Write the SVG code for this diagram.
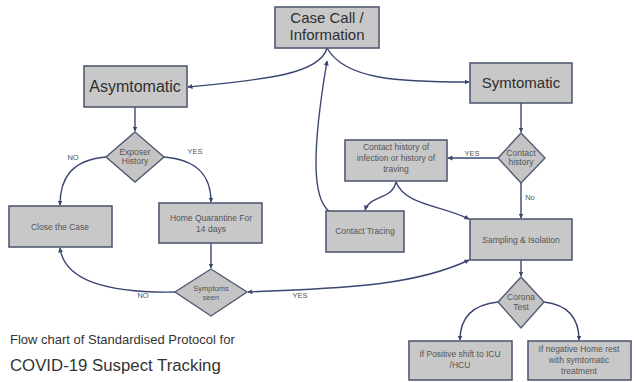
<svg xmlns="http://www.w3.org/2000/svg" width="636" height="382" viewBox="0 0 636 382">
<style>
.box{fill:#c8c8c8;stroke:#525a74;stroke-width:1.6}
.dia{fill:#c4c4c4;stroke:#525a74;stroke-width:1.4}
.c{fill:none;stroke:#3b4773;stroke-width:1.4}
text{font-family:"Liberation Sans",Arial,sans-serif;fill:#3a3a3a;text-anchor:middle}
.big{font-size:15px;fill:#2e2e2e}
.sm{font-size:8.5px;fill:#555}
.lb{font-size:7.5px;fill:#555}
.title{text-anchor:start;fill:#333}
</style>
<defs>
<marker id="ah" viewBox="0 0 10 10" refX="9" refY="5" markerWidth="5" markerHeight="5" orient="auto-start-reverse" markerUnits="userSpaceOnUse">
<path d="M0,0 L10,5 L0,10 z" fill="#3b4773"/>
</marker>
</defs>
<rect width="636" height="382" fill="#fff"/>
<g id="connectors">
<path class="c" d="M327,48 C320,75 260,80 188,87" marker-end="url(#ah)"/>
<path class="c" d="M327,48 C345,80 400,82 469,82" marker-end="url(#ah)"/>
<path class="c" d="M329,211 C312,198 312,150 327,61" marker-end="url(#ah)"/>
<path class="c" d="M135,107 L135,131" marker-end="url(#ah)"/>
<path class="c" d="M106,157 C70,160 60,180 60,205" marker-end="url(#ah)"/>
<path class="c" d="M164,157 C200,160 211,178 211,202" marker-end="url(#ah)"/>
<path class="c" d="M211,243 L211,268" marker-end="url(#ah)"/>
<path class="c" d="M175,292 C120,293 65,285 60,248" marker-end="url(#ah)"/>
<path class="c" d="M248,292 C330,288 410,288 469,260" marker-start="url(#ah)" marker-end="url(#ah)"/>
<path class="c" d="M521,103 L521,132" marker-end="url(#ah)"/>
<path class="c" d="M498,158 L448,158" marker-end="url(#ah)"/>
<path class="c" d="M521,183 L521,218" marker-end="url(#ah)"/>
<path class="c" d="M396,182 C392,200 370,195 365,210" marker-end="url(#ah)"/>
<path class="c" d="M396,182 C405,205 440,205 469,219" marker-end="url(#ah)"/>
<path class="c" d="M521,260 L521,276" marker-end="url(#ah)"/>
<path class="c" d="M498,302 C470,305 460,320 460,340" marker-end="url(#ah)"/>
<path class="c" d="M544,302 C570,305 579,320 579,340" marker-end="url(#ah)"/>
</g>
<g id="case-call"><rect class="box" x="275" y="7" width="104" height="41"/><text class="big" x="327" y="23">Case Call /</text><text class="big" x="327" y="40">Information</text></g>
<g id="asymtomatic"><rect class="box" x="84" y="66" width="103" height="41"/><text x="135" y="92" style="font-size:16px;fill:#2e2e2e">Asymtomatic</text></g>
<g id="symtomatic"><rect class="box" x="470" y="63" width="102" height="40"/><text class="big" x="521" y="88">Symtomatic</text></g>
<g id="exposer-history"><polygon class="dia" points="135,132 164,157 135,182 106,157"/><text class="sm" x="135" y="155">Exposer</text><text class="sm" x="135" y="164">History</text></g>
<g id="close-case"><rect class="box" x="9" y="206" width="103" height="41"/><text class="sm" x="60" y="230">Close the Case</text></g>
<g id="home-quarantine"><rect class="box" x="159" y="203" width="103" height="40"/><text class="sm" x="211" y="221">Home Quarantine For</text><text class="sm" x="211" y="232">14 days</text></g>
<g id="symptoms-seen"><polygon class="dia" points="211,269 247,292 211,316 175,292"/><text class="lb" x="211" y="291">Symptoms</text><text class="lb" x="211" y="300">seen</text></g>
<g id="contact-history-box"><rect class="box" x="345" y="140" width="102" height="41"/><text class="sm" x="396" y="150">Contact history of</text><text class="sm" x="396" y="161">infection or history of</text><text class="sm" x="396" y="172">traving</text></g>
<g id="contact-history-dia"><polygon class="dia" points="521,133 545,158 521,183 498,158"/><text class="sm" x="521" y="156">Contact</text><text class="sm" x="521" y="165">history</text></g>
<g id="contact-tracing"><rect class="box" x="326" y="211" width="78" height="41"/><text class="sm" x="365" y="234">Contact Tracing</text></g>
<g id="sampling"><rect class="box" x="470" y="219" width="102" height="41"/><text class="sm" x="521" y="243">Sampling &amp; Isolation</text></g>
<g id="corona-test"><polygon class="dia" points="521,277 544,302 521,328 498,302"/><text class="sm" x="521" y="300">Corona</text><text class="sm" x="521" y="310">Test</text></g>
<g id="if-positive"><rect class="box" x="409" y="341" width="103" height="39"/><text class="sm" x="460" y="357">If Positive shift to ICU</text><text class="sm" x="460" y="368">/HCU</text></g>
<g id="if-negative"><rect class="box" x="528" y="341" width="103" height="39"/><text class="sm" x="579" y="352">If negative Home rest</text><text class="sm" x="579" y="363">with symtomatic</text><text class="sm" x="579" y="374">treatment</text></g>
<g id="labels">
<text class="lb" x="73" y="160">NO</text>
<text class="lb" x="195" y="154">YES</text>
<text class="lb" x="143" y="298">NO</text>
<text class="lb" x="300" y="298">YES</text>
<text class="lb" x="472" y="156">YES</text>
<text class="lb" x="530" y="200">No</text>
</g>
<g id="title">
<text class="title" x="10" y="344" style="font-size:13px">Flow chart of Standardised Protocol for</text>
<text class="title" x="10" y="371" style="font-size:16.8px">COVID-19 Suspect Tracking</text>
</g>
</svg>
